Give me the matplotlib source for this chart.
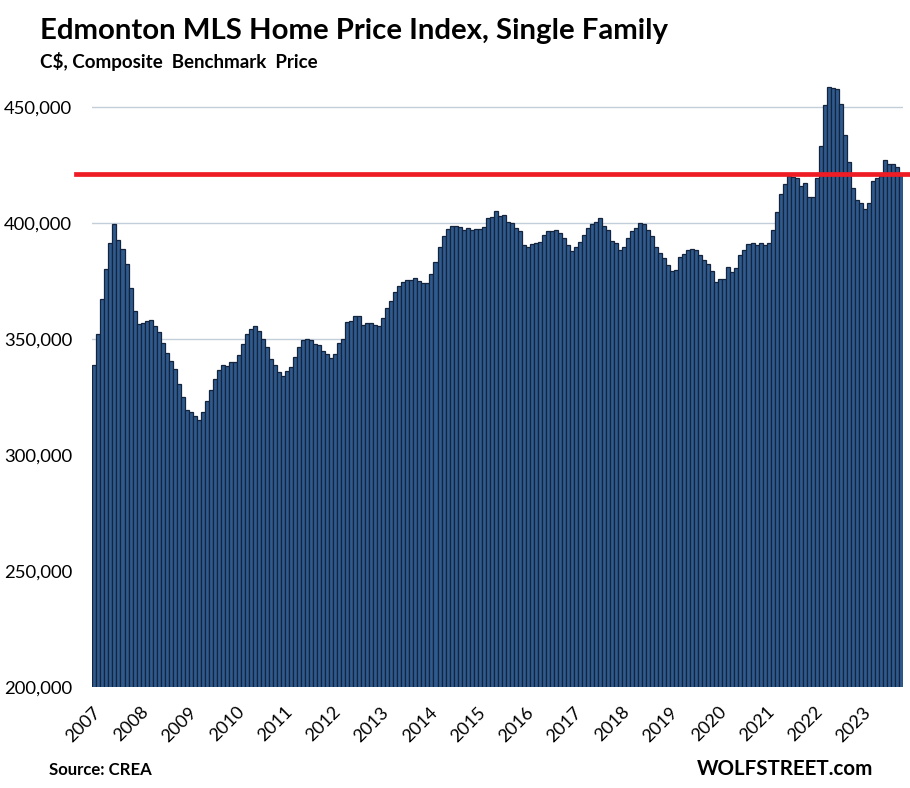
import numpy as np
import matplotlib
matplotlib.use('Agg')
import matplotlib.pyplot as plt
from matplotlib.ticker import FuncFormatter

# monthly benchmark price, Jan 2007 - Oct 2023
prices = [
    338800, 352150, 367240, 380170, 391380, 399570, 392670, 388790, 382330, 371980, 362060, 356460,
    356890, 357610, 358180, 355600, 353010, 348270, 343960, 340510, 337060, 330740, 324990, 319530,
    318520, 316800, 315220, 318520, 323410, 328010, 332750, 336630, 338780, 338350, 340080, 340080,
    343100, 347840, 352150, 354300, 355600, 353440, 349990, 346540, 341370, 338780, 335760, 334040,
    336200, 337920, 342230, 346550, 349570, 350000, 349570, 347840, 347410, 344830, 343530, 341810,
    343530, 348280, 350000, 357330, 357760, 359920, 359920, 356040, 356900, 356900, 356040, 355600,
    359050, 363360, 366380, 370260, 372850, 374570, 375430, 375430, 376300, 375000, 374140, 374140,
    378020, 383190, 389650, 394400, 397410, 398710, 398710, 398280, 396980, 397840, 396980, 397410,
    397410, 398280, 402160, 402590, 405170, 403020, 403450, 400430, 400000, 397840, 396550, 390520,
    389650, 390950, 391380, 391810, 394830, 396550, 396550, 396980, 395690, 393530, 390520, 387930,
    389650, 391810, 394830, 397840, 399570, 400430, 402160, 398710, 396980, 392240, 391380, 388350,
    389650, 393530, 396550, 397840, 400000, 399570, 396980, 394400, 389650, 387070, 384910, 381890,
    379310, 379740, 385340, 386640, 388350, 388790, 388350, 386200, 384040, 382320, 379300, 374560,
    375850, 375850, 381020, 378870, 380590, 386200, 388350, 390940, 391370, 390510, 391370, 390510,
    391370, 396970, 404730, 412490, 416800, 420250, 419820, 419390, 415940, 417240, 411200, 411200,
    419390, 433190, 450860, 458620, 458190, 457760, 451290, 437930, 426290, 415080, 409910, 408610,
    406030, 408610, 418100, 419390, 420250, 427150, 425430, 425430, 424130, 420800,
]
years = list(range(2007, 2024))
ref_level = 421000

plt.rcParams['font.family'] = ['Lato', 'DejaVu Sans']

fig = plt.figure(figsize=(9.1, 7.88), dpi=100)
ax = fig.add_axes([0.1011, 0.1278, 0.8912, 0.7659])

x = np.arange(len(prices))
ax.bar(x, prices, width=1.0, color='#2F5A8E', edgecolor='#14243D', linewidth=0.9, zorder=2)

ax.set_xlim(-0.5, len(prices) - 0.5)
ax.set_ylim(200000, 460000)
ax.set_yticks(range(200000, 450001, 50000))
ax.yaxis.set_major_formatter(FuncFormatter(lambda v, p: '{:,.0f}'.format(v)))
ax.grid(axis='y', color='#C3CEDB', linewidth=1.0, zorder=0)
ax.set_axisbelow(True)
for s in ax.spines.values():
    s.set_visible(False)
ax.tick_params(axis='y', length=0, pad=14.4, labelsize=13.3)

ax.set_xticks([12 * i - 0.6 for i in range(len(years))])
ax.set_xticklabels([str(y) for y in years], rotation=45, ha='right', va='top',
                   rotation_mode='anchor', fontsize=13)
ax.tick_params(axis='x', length=0, pad=12)

# red reference line, runs past the plot edges
ax.axhline(ref_level, xmin=-0.0197, xmax=1.01, color='#EE1C25', linewidth=3.4,
           clip_on=False, zorder=3)

fig.text(0.044, 0.951, 'Edmonton MLS Home Price Index, Single Family', fontsize=21.2,
         fontweight='bold', ha='left', va='baseline')
fig.text(0.044, 0.914, 'C$, Composite  Benchmark  Price', fontsize=13.5,
         fontweight='bold', ha='left', va='baseline')
fig.text(0.054, 0.017, 'Source: CREA', fontsize=12.1, fontweight='bold', ha='left', va='baseline')
fig.text(0.766, 0.017, 'WOLFSTREET.com', fontsize=14.75, fontweight='bold', ha='left', va='baseline')

fig.savefig('out.png', dpi=100)
